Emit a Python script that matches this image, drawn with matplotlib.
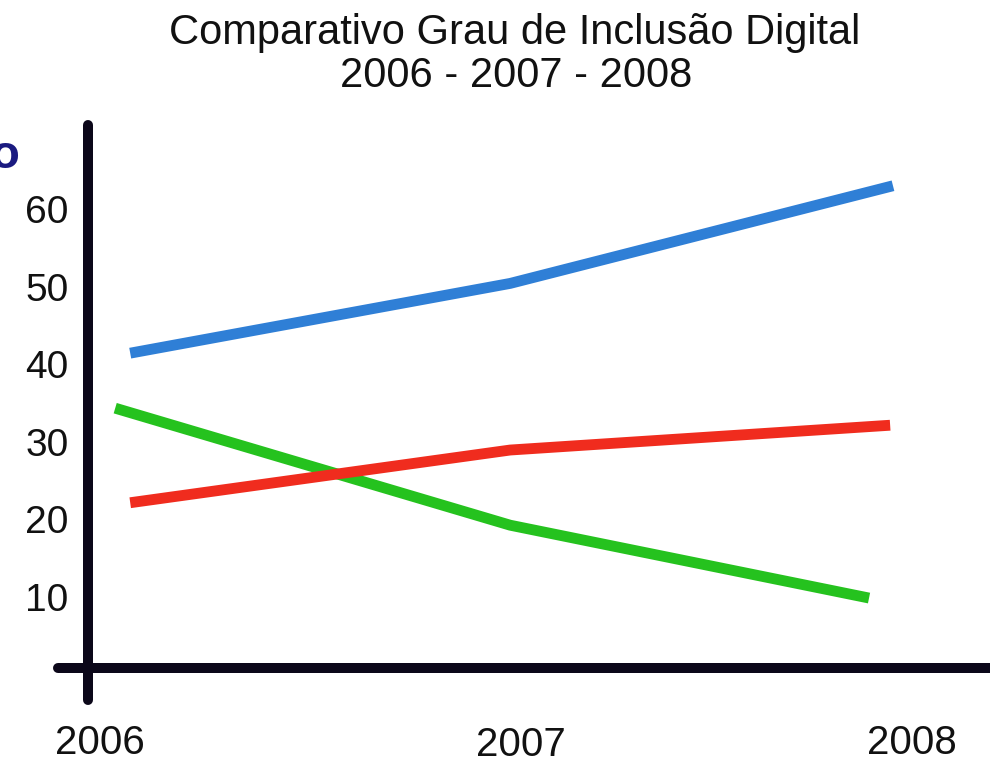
import matplotlib
matplotlib.use("Agg")
import matplotlib.pyplot as plt
import matplotlib.transforms as mtransforms

plt.rcParams['font.family'] = ['Liberation Sans', 'DejaVu Sans']

# ---- data ----
title_line1 = "Comparativo Grau de Inclusão Digital"
title_line2 = "2006 - 2007 - 2008"
x_ticks = [2006, 2007, 2008]
x_tick_labels = ["2006", "2007", "2008"]
y_ticks = [10, 20, 30, 40, 50, 60]
y_tick_labels = ["10", "20", "30", "40", "50", "60"]

blue_x = [2006.074, 2007.01, 2007.953]
blue_y = [41.4, 50.4, 63.0]
red_x = [2006.074, 2007.01, 2007.946]
red_y = [22.1, 28.9, 32.1]
green_x = [2006.037, 2007.01, 2007.894]
green_y = [34.3, 19.2, 9.8]

# ---- figure ----
W, H = 990, 761
fig = plt.figure(figsize=(W / 100, H / 100), dpi=100)
fig.patch.set_facecolor('white')

ax_left, ax_right, ax_top, ax_bottom = 88, 990, 125, 668
ax = fig.add_axes([ax_left / W, (H - ax_bottom) / H,
                   (ax_right - ax_left) / W, (ax_bottom - ax_top) / H])
ax.set_facecolor('white')
ax.set_xlim(2005.970, 2008.192)
ax.set_ylim(0.774, 70.84)

axis_col = '#0b0719'
for side in ['top', 'right']:
    ax.spines[side].set_visible(False)
for side in ['left', 'bottom']:
    sp = ax.spines[side]
    sp.set_linewidth(7.2)
    sp.set_color(axis_col)
    sp.set_capstyle('round')
ax.spines['left'].set_bounds(-3.35, 70.84)
ax.spines['bottom'].set_bounds(2005.897, 2008.192)

lw = 7.8
ax.plot(blue_x, blue_y, color='#2f7fd6', lw=lw, solid_capstyle='butt',
        solid_joinstyle='round', zorder=3)
ax.plot(green_x, green_y, color='#25c21e', lw=lw, solid_capstyle='butt',
        solid_joinstyle='round', zorder=3)
ax.plot(red_x, red_y, color='#f02c1e', lw=lw, solid_capstyle='butt',
        solid_joinstyle='round', zorder=4)

ax.set_yticks(y_ticks)
ax.set_yticklabels(y_tick_labels)
ax.set_xticks(x_ticks)
ax.set_xticklabels(x_tick_labels)
ax.tick_params(axis='y', length=0, pad=14, labelsize=28, labelcolor='#111111')
ax.tick_params(axis='x', length=0, pad=40, labelsize=29, labelcolor='#111111')

# middle label sits a little lower and to the right in the reference
lab = ax.get_xticklabels()[1]
lab.set_transform(lab.get_transform() +
                  mtransforms.ScaledTranslation(15 / 100, -2 / 100, fig.dpi_scale_trans))

# title
fig.text(515 / W, 1 - 44 / H, title_line1, ha='center', va='baseline',
         fontsize=30, color='#111111')
fig.text(516 / W, 1 - 87 / H, title_line2, ha='center', va='baseline',
         fontsize=30, color='#111111')

# label fragment at the left edge (cut off by the image edge in the reference)
fig.text(19 / W, 1 - 168 / H, "o", ha='right', va='baseline',
         fontsize=34, fontweight='bold', color='#1a1a80')

fig.savefig('out.png', dpi=100, facecolor='white')
